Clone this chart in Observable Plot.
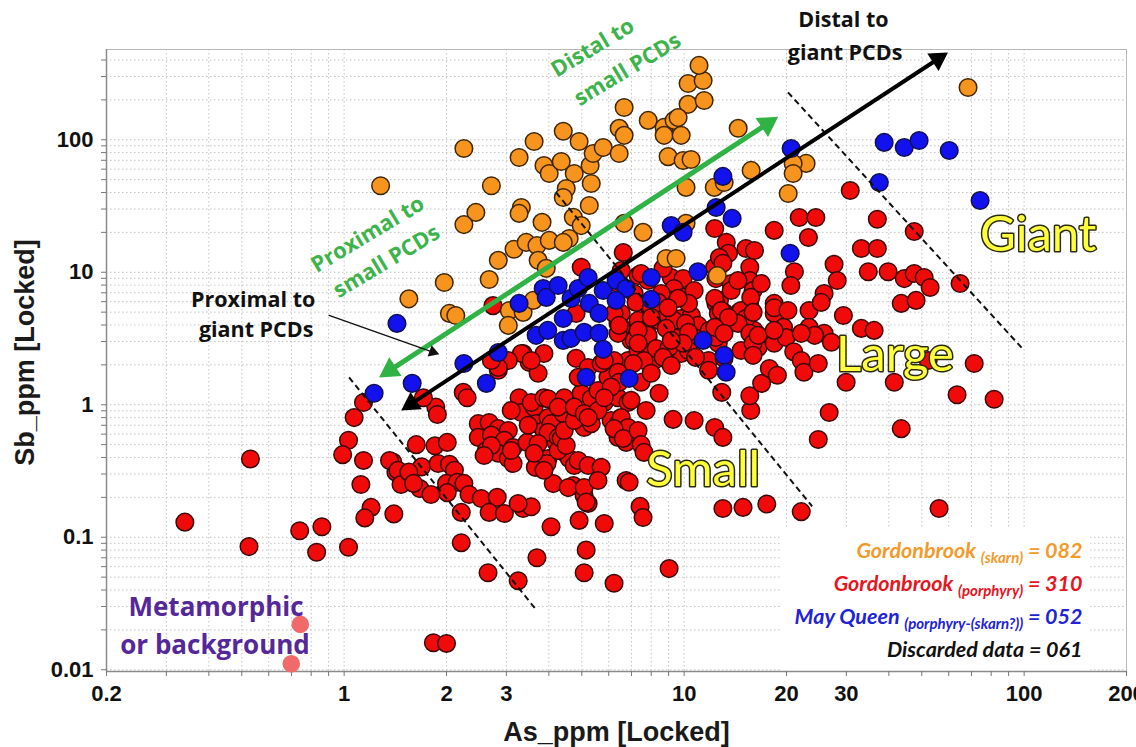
<!DOCTYPE html>
<html><head><meta charset="utf-8">
<script src="https://cdn.jsdelivr.net/npm/d3@7"></script>
<script src="https://cdn.jsdelivr.net/npm/@observablehq/plot@0.6"></script>
<style>body{margin:0;background:#fff;}</style>
</head><body><div id="chart"></div>
<script>
// Gordonbrook (skarn) — As_ppm, Sb_ppm
const skarn = [[1.28,45],[2.25,86],[2.71,45],[2.44,28.3],[2.25,22.9],[1.97,8.37],[1.55,6.3],[2.04,4.89],[2.13,4.72],[2.67,8.82],
[2.84,12.3],[3.16,14.9],[3.32,30.8],[3.27,27.8],[3.82,23.8],[3.43,16.8],[3.69,15.9],[4.01,17.4],[4.59,18.0],[3.72,12.3],
[3.93,10.7],[3.06,5.15],[3.04,3.97],[3.36,4.98],[3.60,6.13],[3.27,73.5],[3.62,97],[4.41,116],[4.91,97],[3.87,64],
[4.01,55.7],[4.35,68.6],[4.75,55.7],[5.29,64],[5.40,78.8],[4.50,42.9],[4.41,36.7],[5.33,46.8],[5.26,31.9],[4.72,26.0],
[4.98,22.5],[5.78,87.5],[6.66,175],[6.44,122],[6.66,108],[6.44,78.8],[7.84,140],[8.73,124],[9.34,140],[8.73,108],
[9.80,108],[10.27,185],[11.45,198],[10.27,266],[11.37,280],[11.06,364],[8.97,74.6],[9.93,69.8],[10.48,71],[14.42,122],
[15.74,58.7],[10.13,43.7],[12.26,43.7],[13.11,47.6],[6.66,23.4],[7.57,20.0],[8.85,12.7],[9.47,12.7],[12.51,9.44],[10.13,23.4],
[22.84,66.3],[20.92,66.3],[20.92,55.7],[20.23,39.3],[68.4,248],[9.60,147],[4.41,16.8]];

// Gordonbrook (porphyry)
const porphyry = [[0.34,0.13],[0.53,0.39],[0.525,0.085],[0.74,0.112],[0.86,0.12],[0.83,0.077],[1.03,0.084],
[1.14,1.04],[1.07,0.80],[1.03,0.54],[0.99,0.42],[1.14,0.38],[1.12,0.25],[1.2,0.168],[1.15,0.14],[1.39,0.37],[1.42,0.31],[1.40,0.15],
[1.63,0.50],[1.85,0.49],[2.01,0.52],[1.69,0.34],[1.89,0.36],[2.04,0.355],[2.11,0.32],[2.0,0.255],[2.15,0.26],[2.25,0.255],[2.01,0.217],[1.67,0.233],[1.80,0.21],[2.33,0.21],[2.53,0.196],[2.82,0.20],[2.67,0.154],[2.96,0.151],[2.21,0.154],[3.36,0.165],[3.55,0.17],[3.25,0.18],
[1.36,0.38],[1.44,0.32],[1.47,0.25],[1.55,0.31],[1.6,0.255],
[2.21,0.091],[2.65,0.054],[3.25,0.047],[3.69,0.070],[4.06,0.12],[4.91,0.134],[5.15,0.080],[5.08,0.054],[5.82,0.127],[6.22,0.045],
[4.12,0.254],[4.72,0.246],[5.08,0.206],[5.22,0.18],[6.75,0.268],[9.03,0.058],
[2.24,1.24],[2.3,1.13],[1.86,0.96],[1.88,0.845],[1.71,1.13],
[2.48,0.72],[2.67,0.735],[2.84,0.66],[3.04,0.64],[2.48,0.567],[2.71,0.59],[2.96,0.54],[3.14,0.476],[2.62,0.452],[2.84,0.43],[3.04,0.393],[3.14,0.36],[3.1,0.452],[2.71,0.493],[2.58,0.414],
[3.27,1.13],[3.32,0.875],[3.1,0.906],[3.62,0.957],[3.67,0.72],[3.87,0.64],[3.55,1.04],[3.87,1.13],[3.98,0.80],
[3.45,0.52],[3.69,0.40],[3.98,0.393],[4.2,0.52],[4.06,0.72],[3.48,0.70],[3.98,0.62],[3.72,0.51],[4.26,0.567],
[3.65,0.337],[3.95,0.36],[4.44,0.437],[4.59,0.393],[4.75,0.348],[3.62,0.43],[4.26,0.452],[4.88,0.38],
[4.35,0.557],[4.5,0.493],[4.41,0.86],[4.65,0.99],[4.98,0.80],[5.08,0.674],[4.44,0.64],[4.75,0.76],[5.33,0.72],
[3.98,1.11],[4.44,1.13],[4.98,1.22],[5.33,1.11],[5.82,1.04],[6.1,0.76],[6.39,0.72],[6.39,0.567],[6.75,0.52],[6.84,0.61],[5.58,1.28],[6.39,1.13],[6.84,1.04],
[4.26,0.96],[4.75,0.96],[5.08,0.86],[5.58,0.906],[6.53,0.80],[6.84,0.674],
[3.87,0.32],[5.22,0.348],[5.7,0.337],[4.56,0.237],[5.08,0.237],[5.58,0.268],[5.15,0.184],[6.89,0.26],[7.42,0.171],[7.57,0.141],
[9.28,0.775],[10.7,0.76],[12.3,0.674],[13.0,0.567],[13.0,0.165],[14.9,0.168],[17.5,0.178],[15.7,0.906],[15.6,1.17],[16.9,1.45],[12.9,1.24],
[6.22,0.66],[6.62,0.557],[7.32,0.64],[7.47,0.50],[7.62,0.437],[5.22,0.80],
[1.83,0.016],[2.0,0.0158],
[2.74,5.6],[4.98,10.9],[3.36,2.44],[3.5,2.09],[3.72,1.73],[2.84,1.82],[4.81,2.24],[6.39,4.11],[6.53,4.89],[6.53,1.88],[6.84,2.16],[5.97,1.61],
[6.62,14.1],[7.32,9.44],[7.83,8.67],[12.3,21.4],[13.3,16.8],[13.5,13.9],[12.3,10.9],[12.4,8.96],[15.2,15.1],[16.1,14.6],[15.6,10.9],[18.4,20.7],[15.6,8.67],[15.95,7.29],[16.85,8.23],[18.4,5.82],[18.4,4.89],[15.6,5.62],[15.2,4.72],[16.06,3.64],[13.75,8.23],[12.7,6.13],[13.1,4.98],[14.5,4.98],
[9.16,9.12],[9.93,8.96],[9.34,7.55],[10.0,6.46],[9.16,6.13],[8.56,6.92],[10.7,7.29],[7.13,6.92],[7.83,5.62],[8.38,5.92],[8.16,4.33],[8.97,4.56],[9.8,4.48],[10.5,4.72],[11.0,3.97],[11.8,3.46],[12.6,2.91],[10.7,3.22],[9.34,3.22],
[7.32,4.33],[7.63,3.64],[7.83,3.22],[6.98,3.06],[6.22,4.89],[6.53,3.84],[6.39,3.46],
[11.8,2.16],[13.1,2.24],[14.7,2.57],[16.5,2.71],[18.4,2.91],[8.97,2.16],[9.8,2.44],[10.3,2.57],[7.32,2.57],[7.83,2.44],[8.16,2.16],[5.22,1.91],[5.7,2.05],[6.22,2.16],[3.87,2.44],[3.32,2.44],[3.04,2.16],[3.55,2.16],[2.84,1.91],[2.71,2.16],[4.88,1.61],
[12.7,12.9],[13.0,11.7],[7.47,9.78],[6.53,10.3],[6.39,8.23],[7.22,5.92],[8.0,5.34],[12.4,5.82],[13.75,7.29],[12.6,4.89],[13.0,4.11],[14.7,5.15],[15.2,4.48],[14.4,4.11],[6.44,3.97],[7.13,3.06],[7.83,3.34],[8.27,2.66],[9.03,2.71],[8.67,2.28],[9.16,1.98],[7.62,2.16],[7.08,2.05],[8.44,4.33],[9.34,4.33],[10.1,4.11],[10.3,3.52],[9.93,2.91],[8.85,3.77],[10.8,2.28],[11.8,1.82],[11.85,3.64],[12.4,3.22],[5.82,2.16],[6.39,1.76],[6.44,1.48],[6.1,1.36],[5.82,1.13],[7.47,1.48],[8.0,1.73],[8.44,1.22],[7.73,0.906],[6.98,1.08],[15.6,3.46],[15.95,2.91],[15.95,2.36],[16.5,3.34],[17.8,1.88],[18.8,1.67],[19.6,3.84],[19.95,3.22],[21.0,2.51],[22.1,2.16],[22.5,1.76],[23.3,3.64],[25.8,3.46],[27.1,2.96],[24.8,2.05],[33.2,3.77],[36.2,3.64],[29.95,1.48],[41.5,1.48],[26.7,0.875],[24.8,0.547],
[8.67,10.7],[14.4,8.67],[10.3,5.82],[9.6,6.35],[8.97,5.4],[8.0,4.56],[7.32,3.64],[12.3,6.35],[12.85,5.15],[13.5,4.56],[12.3,3.84],[13.1,3.46],[18.4,5.4],[20.2,5.15],[18.4,3.64],[23.3,5.15],[23.3,3.84],[24.2,3.34],[7.32,2.91],[9.16,3.06],[4.81,4.89],
[21.8,25.9],[24.4,25.9],[37.0,25.1],[23.2,18.3],[33.2,15.1],[37.0,15.1],[30.8,41.4],[47.5,20.3],[64.8,8.23],[27.6,11.5],[28.2,8.67],[34.8,10.1],[39.8,10.1],[44.4,8.96],[47.5,9.78],[50.8,9.12],[52.9,7.68],[43.5,5.82],[48.1,6.13],[21.1,10.1],[20.6,7.95],[15.7,6.46],[15.95,4.98],[25.8,6.92],[25.3,5.92],[29.4,4.72],[22.1,3.46],[71.3,2.05],[52.2,2.16],[22.1,0.156],[43.5,0.66],[56.2,0.165],[63.5,1.19],[81.6,1.1]];

// May Queen (porphyry-(skarn?))
const mayQueen = [[1.225,1.22],[1.43,4.11],[1.585,1.45],[2.25,2.05],[2.62,1.45],[2.84,2.48],[3.27,5.82],[3.85,7.55],[3.93,6.46],[4.26,7.95],
[3.67,3.34],[4.41,3.06],[4.65,3.17],[4.41,4.48],[5.08,3.52],[5.62,3.46],[5.78,2.62],[5.15,1.61],[6.89,1.58],[5.26,5.82],
[5.62,4.89],[4.65,6.35],[4.88,7.55],[5.22,9.13],[5.78,7.29],[6.31,8.67],[6.75,7.55],[6.31,6.13],[8.0,9.12],[8.0,6.24],
[10.98,10.1],[11.37,3.06],[13.11,2.36],[13.29,1.76],[12.42,30.8],[13.84,25.5],[9.16,22.5],[9.93,20.0],[20.5,13.9],[13.0,52.9],
[20.64,86],[38.75,95.5],[44.4,87.5],[49.1,98.8],[60.2,83],[37.5,47.6],[74.2,34.8],[3.97,3.64]];

// Metamorphic or background
const background = [[0.743,0.022],[0.699,0.0111]];

// axes
const xTicks = [0.2,0.3,0.4,0.5,0.6,0.7,0.8,0.9,1,2,3,4,5,6,7,8,9,10,20,30,40,50,60,70,80,90,100,200];
const xTickLabels = [0.2,1,2,3,4,5,10,20,30,100,200];
const yTicks = [0.01,0.02,0.03,0.04,0.05,0.06,0.07,0.08,0.09,0.1,0.2,0.3,0.4,0.5,0.6,0.7,0.8,0.9,1,2,3,4,5,6,7,8,9,10,20,30,40,50,60,70,80,90,100,200,300,400];
const yTickLabels = [0.01,0.1,1,10,100];

// annotations (data coordinates)
const dashedLines = [
  {x1:1.034,y1:1.61,x2:3.645,y2:0.029},
  {x1:4.20,y1:40.0,x2:23.8,y2:0.171},
  {x1:20.2,y1:228,x2:100,y2:2.57}];
const greenArrow = [{x1:1.267,y1:1.61,x2:18.9,y2:149}];
const blackArrow = [{x1:1.471,y1:0.906,x2:59.7,y2:456}];
const thinArrow = [{x1:0.903,y1:4.72,x2:1.904,y2:2.40}];
const greenNotes = [
  {x:4.12,y:327,t:"Distal to"},{x:4.81,y:198,t:"small PCDs"},
  {x:0.811,y:10.9,t:"Proximal to"},{x:0.941,y:7.04,t:"small PCDs"}];
const blackNotes = [
  {x:29.4,y:795,t:"Distal to"},{x:29.75,y:448,t:"giant PCDs"},
  {x:0.540,y:6.13,t:"Proximal to"},{x:0.551,y:3.64,t:"giant PCDs"}];
const purpleNotes = [{x:0.42,y:0.0295,t:"Metamorphic"},{x:0.417,y:0.0152,t:"or background"}];
const sizeNotes = [{x:110,y:19,t:"Giant"},{x:41.7,y:2.36,t:"Large"},{x:11.37,y:0.319,t:"Small"}];
const legendBox = [{x1:19.3,x2:157,y1:0.0097,y2:0.117}];
const legendNames = ["Gordonbrook","Gordonbrook","May Queen","Discarded data"];
const legendSubs = ["(skarn)","(porphyry)","(porphyry-(skarn?))",""];
const legendCounts = ["082","310","052","061"];
const legendColors = ["#f39a2a","#e8141e","#2222d8","#111111"];
const legendDy = [-114,-81,-48,-15];

const legendMarks = legendNames.map((n,i) => Plot.text([n + "|" + legendSubs[i] + "|= " + legendCounts[i]], {
  frameAnchor:"bottom-right", dx:-44, dy:legendDy[i], lineAnchor:"bottom", textAnchor:"end",
  fill:legendColors[i], fontSize:21.5, fontWeight:"bold", fontStyle:"italic", fontFamily:"Lato, 'Open Sans', sans-serif"}));

// filled arrowheads (triangles whose tips sit on the arrow ends)
function heads(arr, color, r, tip, angle) {
  const ux = Math.sin(angle * Math.PI / 180), uy = -Math.cos(angle * Math.PI / 180);
  return [
    Plot.dot(arr, {x:"x2", y:"y2", symbol:"triangle", r, fill:color, rotate:angle, dx:-tip*ux, dy:-tip*uy}),
    Plot.dot(arr, {x:"x1", y:"y1", symbol:"triangle", r, fill:color, rotate:angle+180, dx:tip*ux, dy:tip*uy})
  ];
}

const chart = Plot.plot({
  width:1136, height:747,
  marginLeft:106, marginRight:10, marginTop:49, marginBottom:76,
  style:{fontFamily:"'Liberation Sans', Arial, sans-serif", background:"#fff"},
  x:{type:"log", domain:[0.2,200]},
  y:{type:"log", domain:[0.0097,480]},
  marks:[
    Plot.ruleX(xTicks, {stroke:"#c4c4c4", strokeDasharray:"1.5,2.5", strokeWidth:1}),
    Plot.ruleY(yTicks, {stroke:"#c4c4c4", strokeDasharray:"1.5,2.5", strokeWidth:1}),
    Plot.rect(legendBox, {x1:"x1", x2:"x2", y1:"y1", y2:"y2", fill:"white"}),
    Plot.frame({stroke:"#b8b8b8"}),
    Plot.ruleX([0.2], {stroke:"#8a8a8a", strokeWidth:1.5}),
    Plot.ruleY([0.0097], {stroke:"#8a8a8a", strokeWidth:1.5}),
    Plot.axisX({ticks:xTicks, tickSize:5, tickPadding:9, stroke:"#777", fill:"#111",
      tickFormat:d => xTickLabels.includes(d) ? String(d) : "", fontSize:22, fontWeight:"bold", label:null}),
    Plot.axisY({ticks:yTicks, tickSize:5, tickPadding:8, stroke:"#777", fill:"#111",
      tickFormat:d => yTickLabels.includes(d) ? String(d) : "", fontSize:22, fontWeight:"bold", label:null}),
    Plot.text(["As_ppm [Locked]"], {frameAnchor:"bottom", dy:50, lineAnchor:"top", textAnchor:"middle", fontSize:27, fontWeight:"bold", fill:"#1a1a1a"}),
    Plot.text(["Sb_ppm [Locked]"], {frameAnchor:"left", dx:-81, dy:-8, rotate:-90, textAnchor:"middle", fontSize:27, fontWeight:"bold", fill:"#1a1a1a"}),
    ...legendMarks,
    Plot.dot(porphyry, {x:d=>d[0], y:d=>d[1], r:8.8, fill:"#f00a0a", stroke:"#3a0808", strokeWidth:1.5}),
    Plot.dot(skarn, {x:d=>d[0], y:d=>d[1], r:8.8, fill:"#f7941d", stroke:"#3f2605", strokeWidth:1.5}),
    Plot.dot(mayQueen, {x:d=>d[0], y:d=>d[1], r:8.8, fill:"#1212ee", stroke:"#101050", strokeWidth:1.5}),
    Plot.dot(background, {x:d=>d[0], y:d=>d[1], r:8.8, fill:"#f06a6a"}),
    Plot.link(dashedLines, {x1:"x1", y1:"y1", x2:"x2", y2:"y2", stroke:"#111", strokeWidth:2, strokeDasharray:"6,4"}),
    Plot.arrow(greenArrow, {x1:"x1", y1:"y1", x2:"x2", y2:"y2", stroke:"#2fb344", strokeWidth:5, headLength:0, insetStart:12, insetEnd:12}),
    ...heads(greenArrow, "#2fb344", 8.4, 13, 56.8),
    Plot.arrow(blackArrow, {x1:"x1", y1:"y1", x2:"x2", y2:"y2", stroke:"#000", strokeWidth:4, headLength:0, insetStart:11, insetEnd:11}),
    ...heads(blackArrow, "#000", 7.7, 12, 56.8),
    Plot.arrow(thinArrow, {x1:"x1", y1:"y1", x2:"x2", y2:"y2", stroke:"#111", strokeWidth:1.4, headLength:0, insetEnd:6}),
    Plot.dot(thinArrow, {x:"x2", y:"y2", symbol:"triangle", r:4.4, fill:"#111", rotate:109.5, dx:-6.4, dy:-2.3}),
    Plot.text(greenNotes, {x:"x", y:"y", text:"t", rotate:-31, textAnchor:"start", fill:"#3cb44b", fontSize:22, fontWeight:"bold", fontFamily:"'Open Sans', sans-serif"}),
    Plot.text(blackNotes, {x:"x", y:"y", text:"t", fill:"#111", fontSize:21.5, fontWeight:"bold", fontFamily:"'Open Sans', sans-serif"}),
    Plot.text(purpleNotes, {x:"x", y:"y", text:"t", fill:"#55289a", fontSize:26, fontWeight:"bold", fontFamily:"'Open Sans', sans-serif"}),
    Plot.text(sizeNotes, {x:"x", y:"y", text:"t", fill:"#ffff3a", stroke:"#2a2a10", strokeWidth:3, paintOrder:"stroke", fontSize:49, fontFamily:"Lato, sans-serif"})
  ]
});

// split legend rows into name, subscript and count
d3.select(chart).selectAll("text").each(function() {
  const s = this.textContent;
  if (s.split("|").length !== 3) return;
  const [name, sub, tail] = s.split("|");
  const t = d3.select(this);
  t.text(null);
  t.append("tspan").text(name + " ");
  if (sub) {
    t.append("tspan").attr("font-size", 15).attr("dy", 5).text(sub);
    t.append("tspan").attr("dy", -5).text(" " + tail);
  } else {
    t.append("tspan").text(tail);
  }
});
document.getElementById("chart").append(chart);
</script>
</body></html>
